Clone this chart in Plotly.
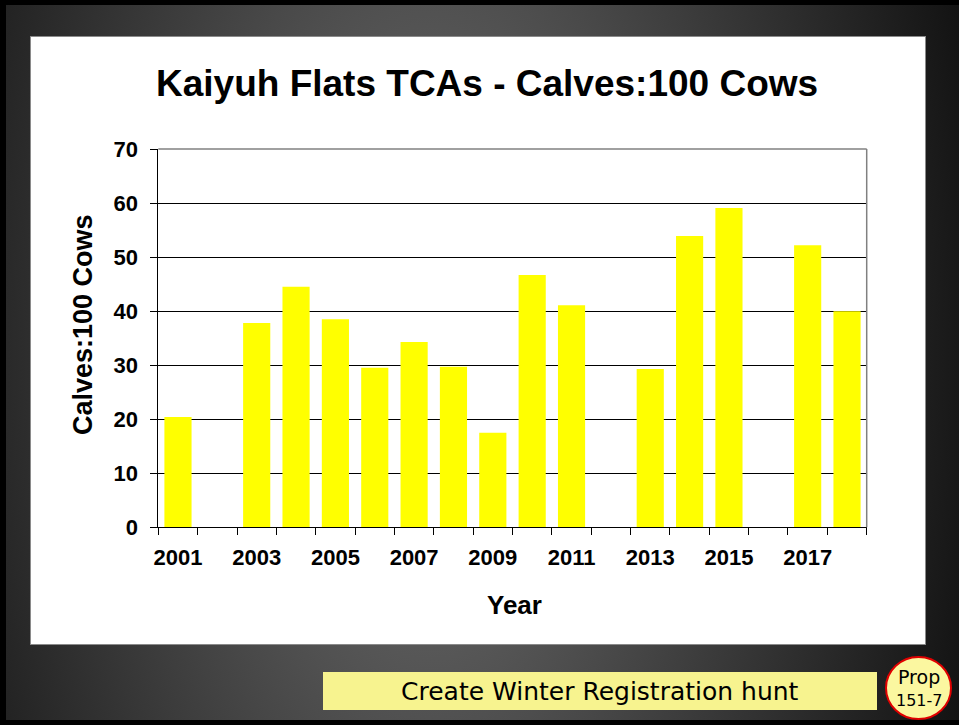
import base64
import plotly.graph_objects as go

# Calves:100 cows by survey year (blank years had no survey)
years = list(range(2001, 2019))
calves = [20.4, None, 37.8, 44.5, 38.5, 29.5, 34.3, 29.7, 17.5, 46.7,
          41.1, None, 29.3, 53.9, 59.1, None, 52.2, 40.0]
tick_years = [2001, 2003, 2005, 2007, 2009, 2011, 2013, 2015, 2017]

W, H = 959, 725

# slide background: black frame, dark radial gradient, white chart card
bg_svg = f"""<svg xmlns='http://www.w3.org/2000/svg' width='{W}' height='{H}'>
<defs><radialGradient id='g' gradientUnits='userSpaceOnUse' cx='0' cy='0' r='1'
 gradientTransform='translate(430 360) scale(590 1130)'>
<stop offset='0' stop-color='#707070'/><stop offset='1' stop-color='#0e0e0e'/>
</radialGradient></defs>
<rect width='{W}' height='{H}' fill='#000'/>
<rect x='6' y='5' width='953' height='715' fill='url(#g)'/>
<rect x='30.5' y='36.5' width='895' height='608' fill='#ffffff' stroke='#8a8a8a'/>
</svg>"""
bg_uri = "data:image/svg+xml;base64," + base64.b64encode(bg_svg.encode()).decode()


def px_x(v):
    return v / W


def px_y(v):
    return 1 - v / H


font_family = "Liberation Sans, Arial, sans-serif"
caption_font = "DejaVu Sans, Verdana, sans-serif"

fig = go.Figure()
fig.add_trace(go.Bar(
    x=years, y=calves,
    marker=dict(color="#FFFF00", line=dict(width=0)),
    hoverinfo="x+y",
))

fig.update_layout(
    width=W, height=H,
    margin=dict(l=0, r=0, t=0, b=0, autoexpand=False),
    paper_bgcolor="#000000",
    plot_bgcolor="#C0C0C0",
    bargap=0.31,
    showlegend=False,
    font=dict(family=font_family, color="#000000"),
    images=[dict(source=bg_uri, xref="paper", yref="paper", x=0, y=1,
                 sizex=1, sizey=1, sizing="stretch", layer="below",
                 xanchor="left", yanchor="top")],
)

# ticks sit on the boundaries between years, labels on every other year
boundaries = [y - 0.5 for y in years] + [years[-1] + 0.5]
fig.update_xaxes(
    domain=[px_x(158.3), px_x(866.7)],
    range=[2000.5, 2018.5],
    tickmode="array", tickvals=tick_years, ticktext=[str(y) for y in tick_years],
    ticks="",
    minor=dict(tickmode="array", tickvals=boundaries, ticks="outside", ticklen=7,
               tickcolor="#000000", tickwidth=1, showgrid=False),
    showline=True, linecolor="#000000", linewidth=1,
    showgrid=False, zeroline=False,
    tickfont=dict(size=22, weight="bold"),
    ticklabelstandoff=10,
    automargin=False,
)
fig.update_yaxes(
    domain=[px_y(527.3), px_y(149)],
    range=[0, 70], dtick=10,
    ticks="outside", ticklen=7, tickcolor="#000000", tickwidth=1,
    showline=True, linecolor="#000000", linewidth=1,
    showgrid=True, gridcolor="#000000", gridwidth=1,
    zeroline=False,
    tickfont=dict(size=22, weight="bold"),
    ticklabelstandoff=8,
    automargin=False,
)

# grey border on top and right of the plot area
fig.add_shape(type="line", xref="x domain", yref="y domain", x0=0, x1=1, y0=1, y1=1,
              line=dict(color="#808080", width=1.5))
fig.add_shape(type="line", xref="x domain", yref="y domain", x0=1, x1=1, y0=0, y1=1,
              line=dict(color="#808080", width=1.5))

annotations = [
    dict(text="Kaiyuh Flats TCAs - Calves:100 Cows", x=px_x(486.5), y=px_y(83),
         font=dict(size=37, weight="bold")),
    dict(text="Calves:100 Cows", x=px_x(83), y=px_y(325), textangle=-90,
         font=dict(size=27, weight="bold")),
    dict(text="Year", x=px_x(514), y=px_y(605),
         font=dict(size=26, weight="bold")),
    dict(text="Create Winter Registration hunt", x=px_x(600), y=px_y(691),
         font=dict(size=25, family=caption_font)),
    dict(text="Prop", x=px_x(919), y=px_y(677),
         font=dict(size=19, family=caption_font)),
    dict(text="151-7", x=px_x(919), y=px_y(700),
         font=dict(size=16, family=caption_font)),
]
for a in annotations:
    fig.add_annotation(xref="paper", yref="paper", showarrow=False,
                       xanchor="center", yanchor="middle", **a)

# caption box and proposal badge
fig.add_shape(type="rect", xref="paper", yref="paper",
              x0=px_x(323), x1=px_x(877), y0=px_y(710), y1=px_y(672),
              fillcolor="#F7F38F", line=dict(width=0), layer="below")
fig.add_shape(type="circle", xref="paper", yref="paper",
              x0=px_x(886), x1=px_x(951), y0=px_y(719), y1=px_y(657),
              fillcolor="#FBF7A0", line=dict(color="#E00000", width=2), layer="below")

fig.write_html("out.html", config={"displayModeBar": False},
               post_script="document.body.style.margin='0';")
